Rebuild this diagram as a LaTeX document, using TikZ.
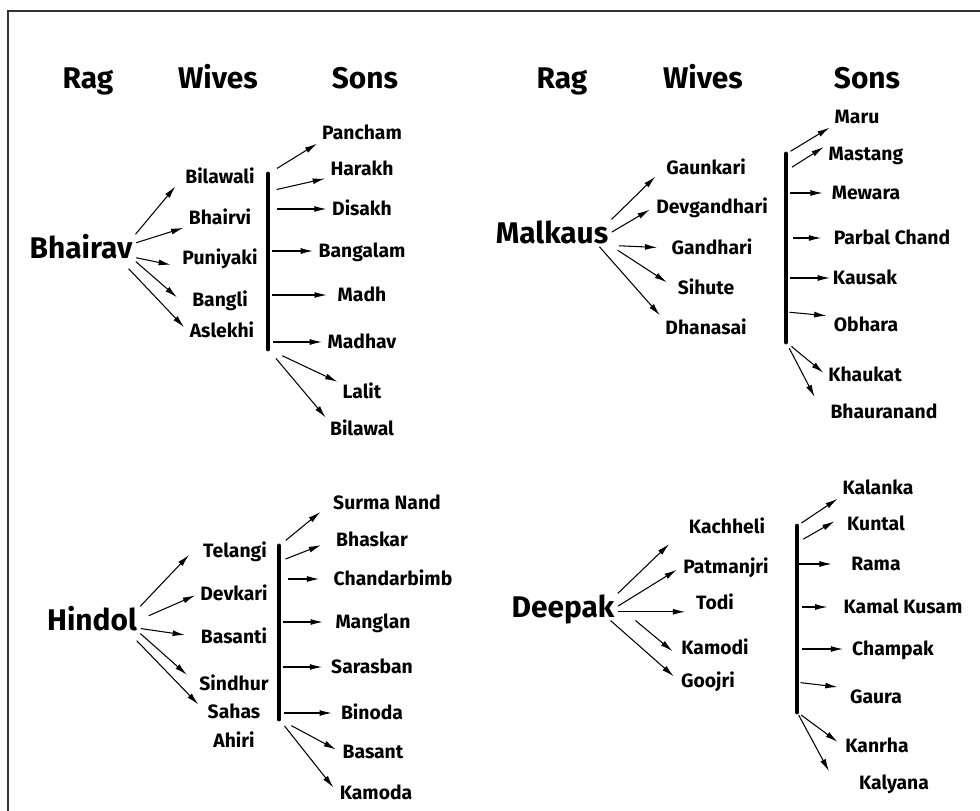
\documentclass[tikz,border=0pt]{standalone}
\usepackage{fontspec}
\setmainfont{Fira Sans}
\usetikzlibrary{arrows.meta,calc}

\begin{document}
\begin{tikzpicture}[x=0.02cm, y=-0.02cm,
        head/.style={font=\fontsize{17}{20}\selectfont\bfseries, text height=11.7pt, text depth=0pt, inner sep=1pt},
        raga/.style={head},
        member/.style={font=\fontsize{11}{13}\selectfont\bfseries, text height=7.6pt, text depth=0pt, inner sep=1pt},
        arr/.style={-{Latex[length=7pt,width=3.4pt]}, line width=0.6pt, shorten <=1pt, shorten >=2pt},
        bar/.style={line width=2.8pt, line cap=round}]

        \useasboundingbox (0,0) rectangle (980,811);
        \draw[line width=0.8pt, black!80] (8,811) -- (8,11) -- (980,11);

        % headings
        \node[head] (ragl) at (88,78) {Rag};
        \node[head] (wivesl) at (218,78) {Wives};
        \node[head] (sonsl) at (365,78) {Sons};
        \node[head] (ragr) at (562,78) {Rag};
        \node[head] (wivesr) at (703,78) {Wives};
        \node[head] (sonsr) at (867,78) {Sons};

        % Bhairav
        \node[raga] (bhairav) at (81,248) {Bhairav};
        \node[member] (bilawali) at (220,177) {Bilawali};
        \node[member] (bhairvi) at (220,218) {Bhairvi};
        \node[member] (puniyaki) at (220,258) {Puniyaki};
        \node[member] (bangli) at (220,300) {Bangli};
        \node[member] (aslekhi) at (222,331) {Aslekhi};
        \node[member] (pancham) at (362,133) {Pancham};
        \node[member] (harakh) at (362,169) {Harakh};
        \node[member] (disakh) at (362,209) {Disakh};
        \node[member] (bangalam) at (362,251) {Bangalam};
        \node[member] (madh) at (362,295) {Madh};
        \node[member] (madhav) at (362,342) {Madhav};
        \node[member] (lalit) at (362,392) {Lalit};
        \node[member] (bilawal) at (362,429) {Bilawal};
        \coordinate (bhtop) at (268,174);
        \coordinate (bhbot) at (268,349);
        \draw[bar] (bhtop) -- (bhbot);

        \draw[arr, shorten >=7pt] (bhairav.north east) -- (bilawali.west);
        \draw[arr] (bhairav.5) -- (bhairvi.south west);
        \draw[arr, shorten >=5.5pt] (bhairav.-10) -- (puniyaki.south west);
        \draw[arr, shorten >=10pt] (bhairav.south east) -- (bangli.south west);
        \draw[arr, shorten >=3pt] ([xshift=-4pt,yshift=-4pt]bhairav.south east) -- (aslekhi.west);

        \draw[arr, shorten <=6pt] (bhtop) -- (pancham.south west);
        \draw[arr, shorten <=5pt] ($(bhtop)!.1!(bhbot)$) -- (harakh.south west);
        \draw[arr, shorten <=5pt] (bhtop |- disakh) -- (disakh.west);
        \draw[arr, shorten <=2pt] (bhtop |- bangalam) -- (bangalam.west);
        \draw[arr, shorten <=2pt, shorten >=5pt] (bhtop |- madh) -- (madh.west);
        \draw[arr, shorten <=3pt] (bhtop |- madhav) -- (madhav.west);
        \draw[arr, shorten <=9pt] (bhbot) -- (lalit.north west);
        \draw[arr, shorten <=7pt] (bhbot) -- (bilawal.north west);

        % Malkaus
        \node[raga] (malkaus) at (552,233) {Malkaus};
        \node[member] (gaunkari) at (706,168) {Gaunkari};
        \node[member] (devgandhari) at (712,207) {Devgandhari};
        \node[member] (gandhari) at (712,248) {Gandhari};
        \node[member] (sihute) at (706,288) {Sihute};
        \node[member] (dhanasai) at (706,328) {Dhanasai};
        \node[member] (maru) at (857,117) {Maru};
        \node[member] (mastang) at (866,154) {Mastang};
        \node[member] (mewara) at (866,193) {Mewara};
        \node[member] (parbal) at (892,238) {Parbal Chand};
        \node[member] (kausak) at (865,278) {Kausak};
        \node[member] (obhara) at (866,325) {Obhara};
        \node[member] (khaukat) at (865,375) {Khaukat};
        \node[member] (bhauranand) at (884,412) {Bhauranand};
        \coordinate (mktop) at (786,154);
        \coordinate (mkbot) at (786,342);
        \draw[bar] (mktop) -- (mkbot);

        \draw[arr, shorten >=7pt] (malkaus.north east) -- (gaunkari.west);
        \draw[arr, shorten >=3pt] (malkaus.east) -- (devgandhari.west);
        \draw[arr, shorten <=5pt, shorten >=7pt] (malkaus.south east) -- (gandhari.west);
        \draw[arr, shorten <=5pt, shorten >=6pt] (malkaus.south east) -- (sihute.west);
        \draw[arr, shorten >=3pt] (malkaus.-15) -- (dhanasai.north west);

        \draw[arr, shorten <=3pt] (mktop) -- (maru.south west);
        \draw[arr, shorten <=4pt] ($(mktop)!.09!(mkbot)$) -- (mastang.north west);
        \draw[arr, shorten <=2pt, shorten >=4pt] (mktop |- mewara) -- (mewara.west);
        \draw[arr, shorten <=4pt, shorten >=6pt] (mktop |- parbal) -- (parbal.west);
        \draw[arr, shorten <=2pt, shorten >=0.5pt] (mktop |- kausak) -- (kausak.west);
        \draw[arr, shorten <=2pt, shorten >=3pt] ($(mktop)!.84!(mkbot)$) -- (obhara.north west);
        \draw[arr, shorten <=4pt] (mkbot) -- (khaukat.west);
        \draw[arr, shorten <=4pt, shorten >=4pt] (mkbot) -- ([xshift=-6pt]bhauranand.north west);

        % Hindol
        \node[raga] (hindol) at (92,620) {Hindol};
        \node[member] (telangi) at (235,551) {Telangi};
        \node[member] (devkari) at (234,594) {Devkari};
        \node[member] (basanti) at (234,637) {Basanti};
        \node[member] (sindhur) at (234,684) {Sindhur};
        \node[member] (sahas) at (234,712) {Sahas};
        \node[member] (ahiri) at (234,741) {Ahiri};
        \node[member] (surma) at (387,503) {Surma Nand};
        \node[member] (bhaskar) at (372,540) {Bhaskar};
        \node[member] (chandar) at (393,579) {Chandarbimb};
        \node[member] (manglan) at (373,622) {Manglan};
        \node[member] (sarasban) at (372,667) {Sarasban};
        \node[member] (binoda) at (372,713) {Binoda};
        \node[member] (basant) at (373,752) {Basant};
        \node[member] (kamoda) at (376,793) {Kamoda};
        \coordinate (hitop) at (279,546);
        \coordinate (hibot) at (279,719);
        \draw[bar] (hitop) -- (hibot);

        \draw[arr, shorten >=10pt] (hindol.north east) -- (telangi.north west);
        \draw[arr, shorten <=6pt] (hindol.east) -- (devkari.west);
        \draw[arr, shorten >=8pt] (hindol.-10) -- (basanti.west);
        \draw[arr, shorten >=8pt] (hindol.south east) -- (sindhur.west);
        \draw[arr, shorten >=6pt] ([xshift=-2pt,yshift=-4pt]hindol.south east) -- (sahas.west);

        \draw[arr, shorten <=5pt, shorten >=8pt] (hitop) -- (surma.west);
        \draw[arr, shorten <=4pt, shorten >=8pt] ($(hitop)!.09!(hibot)$) -- (bhaskar.west);
        \draw[arr, shorten <=5pt, shorten >=7pt] (hitop |- chandar) -- (chandar.west);
        \draw[arr, shorten <=2pt, shorten >=6pt] (hitop |- manglan) -- (manglan.west);
        \draw[arr, shorten <=2pt, shorten >=4pt] (hitop |- sarasban) -- (sarasban.west);
        \draw[arr, shorten <=3pt, shorten >=4pt] (hitop |- binoda) -- (binoda.west);
        \draw[arr, shorten <=8pt, shorten >=3pt] (hibot) -- (basant.west);
        \draw[arr, shorten <=5pt, shorten >=4pt] (hibot) -- (kamoda.west);

        % Deepak
        \node[raga] (deepak) at (563,607) {Deepak};
        \node[member] (kachheli) at (727,527) {Kachheli};
        \node[member] (patmanjri) at (726,567) {Patmanjri};
        \node[member] (todi) at (715,603) {Todi};
        \node[member] (kamodi) at (715,648) {Kamodi};
        \node[member] (goojri) at (708,681) {Goojri};
        \node[member] (kalanka) at (878,488) {Kalanka};
        \node[member] (kuntal) at (876,524) {Kuntal};
        \node[member] (rama) at (876,564) {Rama};
        \node[member] (kamal) at (903,607) {Kamal Kusam};
        \node[member] (champak) at (893,649) {Champak};
        \node[member] (gaura) at (876,697) {Gaura};
        \node[member] (kanrha) at (877,746) {Kanrha};
        \node[member] (kalyana) at (894,783) {Kalyana};
        \coordinate (dptop) at (797,526);
        \coordinate (dpbot) at (797,712);
        \draw[bar] (dptop) -- (dpbot);

        \draw[arr, shorten >=14pt] (deepak.north east) -- (kachheli.west);
        \draw[arr, shorten >=3pt] (deepak.east) -- (patmanjri.west);
        \draw[arr, shorten >=5pt] (deepak.east |- todi.south) -- (todi.south west);
        \draw[arr, shorten >=5pt] ([xshift=10pt]deepak.south east) -- (kamodi.south west);
        \draw[arr, shorten >=4pt] (deepak.-15) -- (goojri.west);

        \draw[arr, shorten <=3pt] (dptop) -- (kalanka.south west);
        \draw[arr, shorten <=4pt, shorten >=7pt] ($(dptop)!.09!(dpbot)$) -- (kuntal.north west);
        \draw[arr, shorten <=1pt, shorten >=10pt] (dptop |- rama) -- (rama.west);
        \draw[arr, shorten <=3pt, shorten >=8pt] (dptop |- kamal) -- (kamal.west);
        \draw[arr, shorten <=3pt, shorten >=4pt] (dptop |- champak) -- (champak.west);
        \draw[arr, shorten <=2pt, shorten >=6pt] ($(dptop)!.84!(dpbot)$) -- (gaura.north west);
        \draw[arr, shorten <=3pt, shorten >=4pt] (dpbot) -- (kanrha.west);
        \draw[arr, shorten <=2pt, shorten >=2pt] (dpbot) -- ([xshift=-15pt]kalyana.north west);

    \end{tikzpicture}
\end{document}
